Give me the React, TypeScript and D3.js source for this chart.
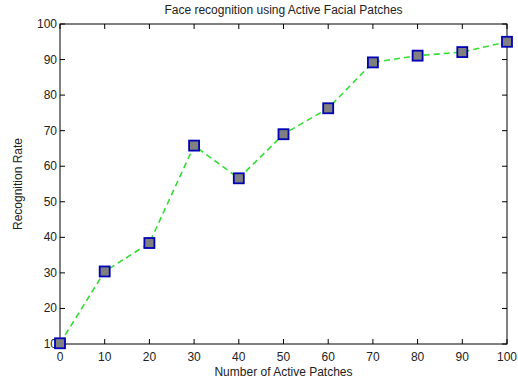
import React from "react";
import * as d3 from "d3";

const patches = [0, 10, 20, 30, 40, 50, 60, 70, 80, 90, 100];
const rates = [10.2, 30.4, 38.4, 65.8, 56.6, 69.0, 76.3, 89.2, 91.1, 92.1, 95.0];
const xTicks = [0, 10, 20, 30, 40, 50, 60, 70, 80, 90, 100];
const yTicks = [10, 20, 30, 40, 50, 60, 70, 80, 90, 100];

const W = 518, H = 381;
const L = 60, R = 507, T = 24, B = 344;

export default function App() {
  const x = d3.scaleLinear().domain([0, 100]).range([L, R]);
  const y = d3.scaleLinear().domain([10, 100]).range([B, T]);
  const line = d3.line<number>().x((_, i) => x(patches[i])).y((d) => y(d));
  const font = "'Liberation Sans', Arial, sans-serif";
  const tl = 5;
  return (
    <svg width={W} height={H} style={{ position: "absolute", left: 0, top: 0 }}>
      <rect width={W} height={H} fill="#fff" />
      <rect x={L} y={T} width={R - L} height={B - T} fill="none" stroke="#000" strokeWidth={1} />
      {xTicks.map((t) => (
        <g key={"x" + t}>
          <line x1={x(t)} x2={x(t)} y1={B} y2={B - tl} stroke="#000" />
          <line x1={x(t)} x2={x(t)} y1={T} y2={T + tl} stroke="#000" />
          <text x={x(t)} y={B + 17} textAnchor="middle" fontFamily={font} fontSize={12} fill="#222">{t}</text>
        </g>
      ))}
      {yTicks.map((t) => (
        <g key={"y" + t}>
          <line x1={L} x2={L + tl} y1={y(t)} y2={y(t)} stroke="#000" />
          <line x1={R} x2={R - tl} y1={y(t)} y2={y(t)} stroke="#000" />
          <text x={L - 3} y={y(t) + 4} textAnchor="end" fontFamily={font} fontSize={12} fill="#222">{t}</text>
        </g>
      ))}
      <path d={line(rates) || ""} fill="none" stroke="#33dd33" strokeWidth={1.6} strokeDasharray="6,4" />
      {rates.map((r, i) => (
        <rect key={i} x={x(patches[i]) - 5} y={y(r) - 5} width={10} height={10} fill="#808080" stroke="#0000b4" strokeWidth={1.8} />
      ))}
      <text x={(L + R) / 2} y={14} textAnchor="middle" fontFamily={font} fontSize={12} fill="#222">Face recognition using Active Facial Patches</text>
      <text x={(L + R) / 2} y={376} textAnchor="middle" fontFamily={font} fontSize={12} fill="#222">Number of Active Patches</text>
      <text transform={`translate(22,${(T + B) / 2}) rotate(-90)`} textAnchor="middle" fontFamily={font} fontSize={12} fill="#222">Recognition Rate</text>
    </svg>
  );
}
